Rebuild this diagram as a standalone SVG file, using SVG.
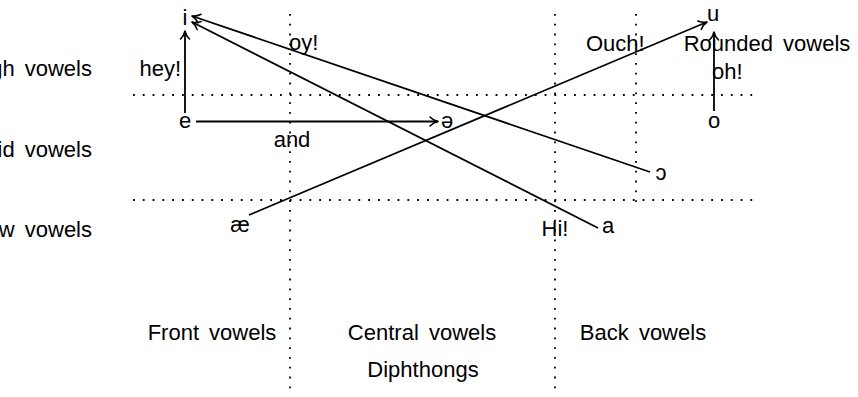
<svg xmlns="http://www.w3.org/2000/svg" width="858" height="397" viewBox="0 0 858 397">
<defs>
<style>
text{font-family:"Liberation Sans","DejaVu Sans",sans-serif;font-size:22px;fill:#000;word-spacing:4px}
.dot{stroke:#000;stroke-width:1.8;stroke-dasharray:1.8 8;fill:none}
.edge{stroke:#000;stroke-width:1.8;fill:none;marker-end:url(#arr)}
.m{text-anchor:middle}
.e{text-anchor:end}
</style>
<marker id="arr" viewBox="-10 -6 12 12" refX="0" refY="0" markerWidth="12" markerHeight="12" markerUnits="userSpaceOnUse" orient="auto">
<path d="M-8,-4.5 C-5.5,-1.9 -2.5,-0.5 0,0 C-2.5,0.5 -5.5,1.9 -8,4.5" fill="none" stroke="#000" stroke-width="1.6" stroke-linecap="round" stroke-linejoin="round"/>
</marker>
</defs>
<g id="grid">
<line class="dot" x1="133" y1="95" x2="760" y2="95"/>
<line class="dot" x1="133" y1="200" x2="760" y2="200"/>
<line class="dot" x1="290" y1="14" x2="290" y2="392"/>
<line class="dot" x1="555" y1="14" x2="555" y2="392"/>
<line class="dot" x1="636" y1="14" x2="636" y2="208"/>
</g>
<g id="row-labels">
<text class="e" x="92" y="76">High vowels</text>
<text class="e" x="92" y="157">Mid vowels</text>
<text class="e" x="92" y="237">Low vowels</text>
</g>
<g id="col-labels">
<text class="m" x="212" y="340">Front vowels</text>
<text class="m" x="422" y="340">Central vowels</text>
<text class="m" x="643" y="340">Back vowels</text>
<text class="m" x="423" y="377">Diphthongs</text>
<text class="m" x="767" y="51">Rounded vowels</text>
</g>
<g id="node-i"><text class="m" x="185" y="25">i</text></g>
<g id="node-e"><text class="m" x="185" y="128">e</text></g>
<g id="node-schwa"><text class="m" x="447" y="128">ə</text></g>
<g id="node-u"><text class="m" x="713" y="21">u</text></g>
<g id="node-o"><text class="m" x="714" y="128">o</text></g>
<g id="node-open-o"><text class="m" x="661" y="180">ɔ</text></g>
<g id="node-ae"><text class="m" x="240" y="232">æ</text></g>
<g id="node-a"><text class="m" x="608" y="233">a</text></g>
<g id="connectors">
<line class="edge" x1="185" y1="113" x2="185" y2="31"/>
<line class="edge" x1="196" y1="121.5" x2="438" y2="121.5"/>
<line class="edge" x1="650" y1="172" x2="192" y2="16"/>
<line class="edge" x1="598" y1="228" x2="192" y2="22"/>
<line class="edge" x1="249" y1="215" x2="707" y2="22"/>
<line class="edge" x1="714" y1="111" x2="714" y2="32"/>
</g>
<g id="edge-labels">
<text class="e" x="181" y="76">hey!</text>
<text class="m" x="292" y="147">and</text>
<text x="289" y="50">oy!</text>
<text class="m" x="555" y="236">Hi!</text>
<text x="586" y="51">Ouch!</text>
<text x="712" y="79">oh!</text>
</g>
</svg>
